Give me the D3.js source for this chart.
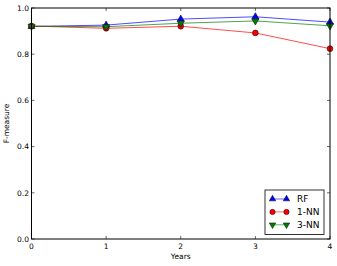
<!DOCTYPE html>
<html>
<head>
<meta charset="utf-8">
<script src="https://cdn.jsdelivr.net/npm/d3@7"></script>
<style>
  body { margin: 0; background: #fff; }
  text { font-family: "DejaVu Sans", sans-serif; }
</style>
</head>
<body>
<svg id="chart" width="337" height="266"></svg>
<script>
const years = [0, 1, 2, 3, 4];
const rf = [0.920, 0.926, 0.952, 0.962, 0.939];
const nn1 = [0.922, 0.912, 0.921, 0.892, 0.824];
const nn3 = [0.921, 0.919, 0.934, 0.944, 0.923];
const yTicks = [0.0, 0.2, 0.4, 0.6, 0.8, 1.0];

const series = [
  { name: "RF", values: rf, color: "#0000ff", symbol: d3.symbolTriangle, rot: 0 },
  { name: "1-NN", values: nn1, color: "#ff0000", symbol: d3.symbolCircle, rot: 0 },
  { name: "3-NN", values: nn3, color: "#007f00", symbol: d3.symbolTriangle, rot: 180 }
];

const svg = d3.select("#chart");
const m = { left: 31.5, right: 7, top: 8, bottom: 27 };
const W = 337, H = 266;

const x = d3.scaleLinear().domain([0, 4]).range([m.left, W - m.right]);
const y = d3.scaleLinear().domain([0, 1]).range([H - m.bottom, m.top]);

const g = svg.append("g");

// ticks inside, all four sides
const tickLen = 3;
years.forEach(t => {
  g.append("line").attr("x1", x(t)).attr("x2", x(t)).attr("y1", y(0)).attr("y2", y(0) - tickLen).attr("stroke", "#000").attr("stroke-width", 0.6);
  g.append("line").attr("x1", x(t)).attr("x2", x(t)).attr("y1", y(1)).attr("y2", y(1) + tickLen).attr("stroke", "#000").attr("stroke-width", 0.6);
  g.append("text").attr("x", x(t)).attr("y", y(0) + 10).attr("text-anchor", "middle").attr("font-size", 7.5).text(t);
});
yTicks.forEach(t => {
  g.append("line").attr("x1", x(0)).attr("x2", x(0) + tickLen).attr("y1", y(t)).attr("y2", y(t)).attr("stroke", "#000").attr("stroke-width", 0.6);
  g.append("line").attr("x1", x(4)).attr("x2", x(4) - tickLen).attr("y1", y(t)).attr("y2", y(t)).attr("stroke", "#000").attr("stroke-width", 0.6);
  g.append("text").attr("x", x(0) - 2.5).attr("y", y(t) + 2.7).attr("text-anchor", "end").attr("font-size", 7.5).text(t.toFixed(1));
});

// lines
const line = d3.line().x((d, i) => x(years[i])).y(d => y(d));
series.forEach(s => {
  g.append("path").attr("d", line(s.values)).attr("fill", "none")
    .attr("stroke", s.color).attr("stroke-width", 1).attr("stroke-opacity", 0.7);
});
series.forEach(s => {
  const sym = d3.symbol().type(s.symbol).size(s.symbol === d3.symbolCircle ? 26 : 22);
  s.values.forEach((v, i) => {
    g.append("path").attr("d", sym())
      .attr("transform", `translate(${x(years[i])},${y(v)}) rotate(${s.rot})`)
      .attr("fill", s.color).attr("stroke", "#000").attr("stroke-width", 0.5);
  });
});

// frame
g.append("rect").attr("x", x(0)).attr("y", y(1)).attr("width", x(4) - x(0)).attr("height", y(0) - y(1))
  .attr("fill", "none").attr("stroke", "#000").attr("stroke-width", 1);

// axis labels
svg.append("text").attr("x", (x(0) + x(4)) / 2).attr("y", 259).attr("text-anchor", "middle").attr("font-size", 7.5).text("Years");
svg.append("text").attr("transform", `translate(9,${(y(0) + y(1)) / 2}) rotate(-90)`).attr("text-anchor", "middle").attr("font-size", 7.5).text("F-measure");

// legend
const lg = svg.append("g");
lg.append("rect").attr("x", 265).attr("y", 190).attr("width", 59).attr("height", 44.5)
  .attr("fill", "#fff").attr("stroke", "#000").attr("stroke-width", 0.8);
series.forEach((s, i) => {
  const ly = 199 + i * 12.9;
  lg.append("line").attr("x1", 272.5).attr("x2", 286.5).attr("y1", ly).attr("y2", ly)
    .attr("stroke", s.color).attr("stroke-width", 1).attr("stroke-opacity", 0.6);
  const sym = d3.symbol().type(s.symbol).size(s.symbol === d3.symbolCircle ? 22 : 18);
  [272.5, 286.5].forEach(px => {
    lg.append("path").attr("d", sym()).attr("transform", `translate(${px},${ly}) rotate(${s.rot})`)
      .attr("fill", s.color).attr("stroke", "#000").attr("stroke-width", 0.5);
  });
  lg.append("text").attr("x", 297).attr("y", ly + 3.2).attr("font-size", 9).text(s.name);
});
</script>
</body>
</html>
